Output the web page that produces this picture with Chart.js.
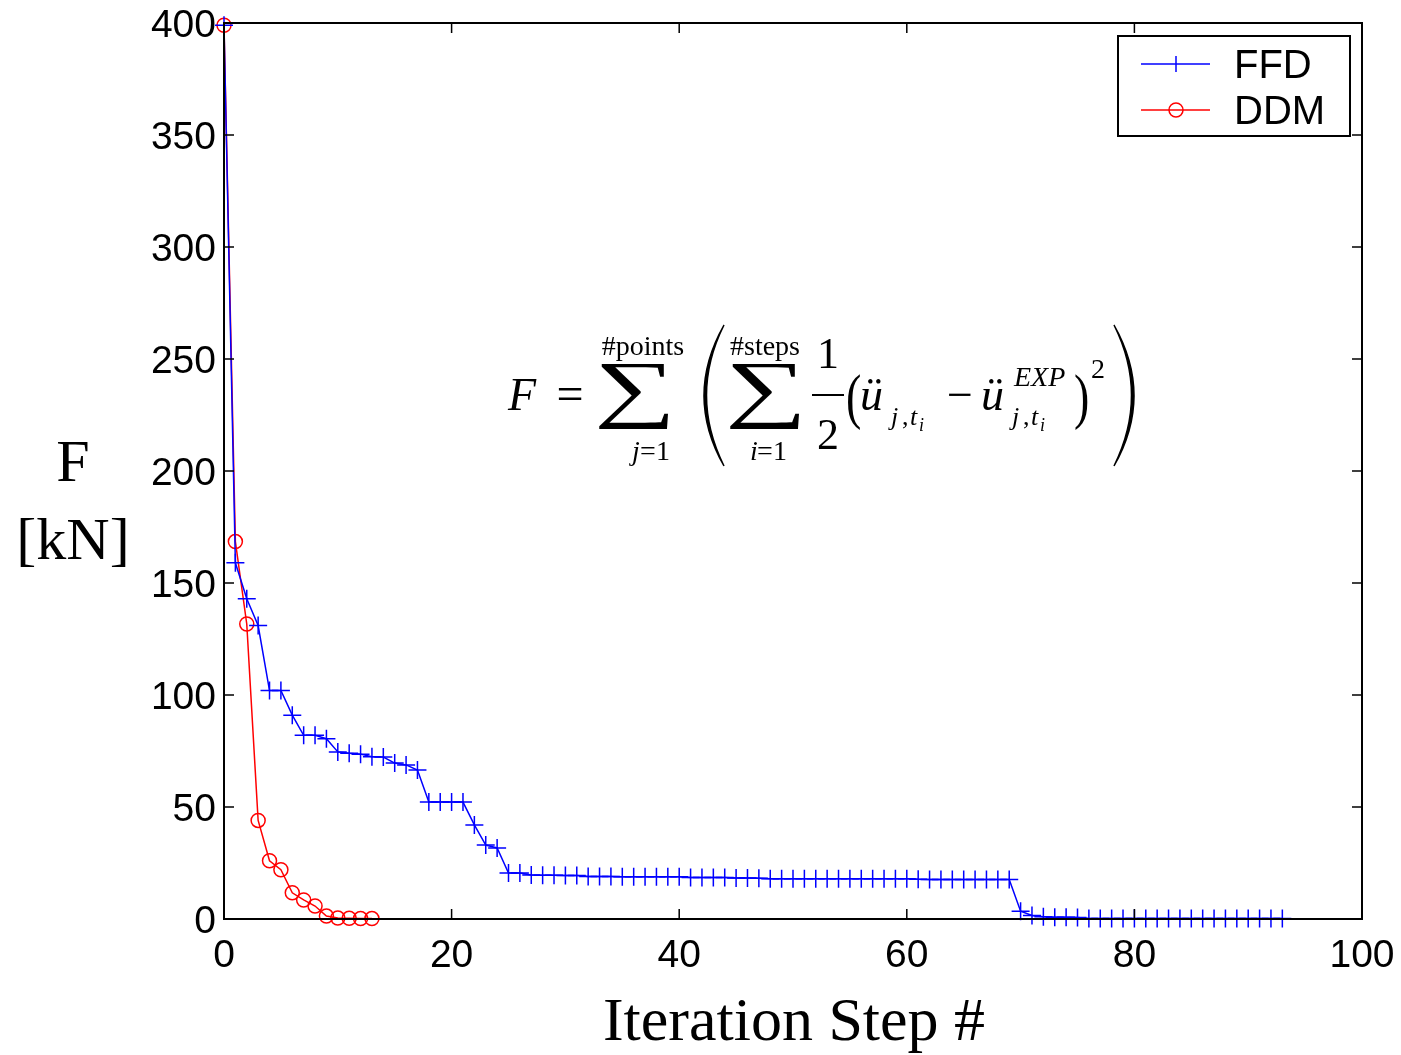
<!DOCTYPE html>
<html>
<head>
<meta charset="utf-8">
<script src="https://cdn.jsdelivr.net/npm/chart.js@4.4.1/dist/chart.umd.min.js"></script>
<style>
  html, body { margin: 0; padding: 0; background: #fff; }
  #wrap { width: 1401px; height: 1055px; }
</style>
</head>
<body>
<div id="wrap"><canvas id="chart" width="1401" height="1055"></canvas></div>
<script>
// Objective function F [kN] per iteration step
const ffdValues = [
  399, 159, 143, 131, 102, 102, 91, 82, 82, 80.5,
  74.6, 74, 73.6, 72.4, 72.3, 69.6, 68.8, 66.5, 52.2, 52.2,
  52.2, 52.2, 42, 33, 31.7, 20.5, 20.5, 19.6, 19.5, 19.5,
  19.4, 19.4, 19.0, 19.0, 19.0, 18.9, 18.9, 18.9, 18.9, 18.9,
  18.9, 18.5, 18.5, 18.5, 18.5, 18.3, 18.3, 18.2, 18.0, 18.0,
  18.0, 18.0, 18.0, 18.0, 18.0, 18.0, 18.0, 18.0, 18.0, 18.0,
  18.0, 17.7, 17.6, 17.6, 17.6, 17.6, 17.6, 17.6, 17.6, 17.6,
  3.5, 1.6, 1.0, 0.8, 0.8, 0.7, 0.2, 0.2, 0.2, 0.2,
  0.2, 0.2, 0.2, 0.2, 0.2, 0.2, 0.2, 0.2, 0.2, 0.2,
  0.2, 0.2, 0.2, 0.2
];
const ddmValues = [399, 168.5, 131.7, 44, 26, 22, 11.7, 8.5, 5.8, 1.3, 0.4, 0.3, 0.2, 0.2];
const seriesNames = ["FFD", "DDM"];
const xTicks = [0, 20, 40, 60, 80, 100];
const yTicks = [0, 50, 100, 150, 200, 250, 300, 350, 400];

const SANS = "'Liberation Sans', Arial, Helvetica, sans-serif";
const SERIF = "'Liberation Serif', 'Times New Roman', serif";

function toPoints(values) {
  return values.map((v, i) => ({ x: i, y: v }));
}

// Box, inward ticks, axis titles, legend and formula
const decorPlugin = {
  id: "decor",
  afterDraw(chart) {
    const ctx = chart.ctx;
    const a = chart.chartArea;
    const xs = chart.scales.x;
    const ys = chart.scales.y;
    ctx.save();

    // frame
    ctx.strokeStyle = "#000";
    ctx.lineWidth = 2;
    ctx.strokeRect(a.left, a.top, a.right - a.left, a.bottom - a.top);

    // inward ticks on all four sides
    const tl = 10;
    ctx.lineWidth = 1.5;
    ctx.beginPath();
    xTicks.forEach((t) => {
      const px = xs.getPixelForValue(t);
      ctx.moveTo(px, a.bottom); ctx.lineTo(px, a.bottom - tl);
      ctx.moveTo(px, a.top); ctx.lineTo(px, a.top + tl);
    });
    yTicks.forEach((t) => {
      const py = ys.getPixelForValue(t);
      ctx.moveTo(a.left, py); ctx.lineTo(a.left + tl, py);
      ctx.moveTo(a.right, py); ctx.lineTo(a.right - tl, py);
    });
    ctx.stroke();

    // axis titles
    ctx.fillStyle = "#000";
    ctx.textAlign = "center";
    ctx.textBaseline = "alphabetic";
    ctx.font = "60px " + SERIF;
    ctx.fillText("F", 73, 481);
    ctx.fillText("[kN]", 73, 559);
    ctx.font = "62px " + SERIF;
    ctx.fillText("Iteration Step #", (a.left + a.right) / 2 + 1, 1040);

    // legend
    const lx = 1118, ly = 36, lw = 232, lh = 100;
    ctx.fillStyle = "#fff";
    ctx.fillRect(lx, ly, lw, lh);
    ctx.strokeStyle = "#000";
    ctx.lineWidth = 2;
    ctx.strokeRect(lx, ly, lw, lh);
    const rows = [
      { y: 64, color: "#0000ff", marker: "cross" },
      { y: 110, color: "#ff0000", marker: "circle" },
    ];
    rows.forEach((r, i) => {
      ctx.strokeStyle = r.color;
      ctx.lineWidth = 1.5;
      ctx.beginPath();
      ctx.moveTo(1141, r.y); ctx.lineTo(1210, r.y);
      ctx.stroke();
      ctx.beginPath();
      if (r.marker === "cross") {
        ctx.moveTo(1176, r.y - 8); ctx.lineTo(1176, r.y + 8);
      } else {
        ctx.arc(1176, r.y, 7, 0, Math.PI * 2);
      }
      ctx.stroke();
      ctx.fillStyle = "#000";
      ctx.textAlign = "left";
      ctx.font = "40px " + SANS;
      ctx.fillText(seriesNames[i], 1234, r.y + 14);
    });

    // formula
    drawFormula(ctx);
    ctx.restore();
  },
};

function txt(ctx, s, x, y, size, style, align) {
  ctx.font = (style || "") + " " + size + "px " + SERIF;
  ctx.textAlign = align || "left";
  ctx.fillText(s, x, y);
}

function bigParen(ctx, x, top, bottom, dir) {
  // dir = 1 for "(", -1 for ")"
  const mid = (top + bottom) / 2;
  const bulge = 40 * dir;
  ctx.beginPath();
  ctx.moveTo(x, top);
  ctx.quadraticCurveTo(x - bulge, mid, x, bottom);
  ctx.quadraticCurveTo(x - bulge + 5 * dir, mid, x, top);
  ctx.closePath();
  ctx.fill();
  ctx.lineWidth = 1.5;
  ctx.stroke();
}

function sigma(ctx, x, base) {
  ctx.save();
  ctx.translate(x, base);
  ctx.scale(1.25, 0.815);
  txt(ctx, "\u2211", 0, 0, 92, "", "center");
  ctx.restore();
}

function drawFormula(ctx) {
  ctx.fillStyle = "#000";
  ctx.strokeStyle = "#000";
  ctx.textBaseline = "alphabetic";

  txt(ctx, "F", 508, 410, 46, "italic");
  txt(ctx, "=", 570, 410, 48, "", "center");

  // outer sum
  sigma(ctx, 635, 413);
  txt(ctx, "#points", 643, 355, 28, "", "center");
  txt(ctx, "j", 636, 460, 28, "italic", "center");
  txt(ctx, "=1", 655, 460, 28, "", "center");

  // big parentheses
  bigParen(ctx, 724, 325, 466, 1);
  bigParen(ctx, 1114, 325, 466, -1);

  // inner sum
  sigma(ctx, 766, 413);
  txt(ctx, "#steps", 765, 355, 28, "", "center");
  txt(ctx, "i", 754, 460, 28, "italic", "center");
  txt(ctx, "=1", 772, 460, 28, "", "center");

  // fraction 1/2
  txt(ctx, "1", 828, 368, 44, "", "center");
  ctx.lineWidth = 2;
  ctx.beginPath();
  ctx.moveTo(812, 395); ctx.lineTo(844, 395);
  ctx.stroke();
  txt(ctx, "2", 828, 449, 44, "", "center");

  // small parentheses
  ctx.save();
  ctx.translate(846, 417);
  ctx.scale(1, 1.35);
  txt(ctx, "(", 0, 0, 46, "");
  ctx.restore();
  ctx.save();
  ctx.translate(1074, 417);
  ctx.scale(1, 1.35);
  txt(ctx, ")", 0, 0, 46, "");
  ctx.restore();

  // first acceleration term
  txt(ctx, "\u00fc", 860, 410, 46, "italic");
  txt(ctx, "j", 891, 425, 26, "italic");
  txt(ctx, ",", 902, 425, 26, "");
  txt(ctx, "t", 910, 425, 26, "italic");
  txt(ctx, "i", 919, 431, 18, "italic");

  txt(ctx, "\u2212", 960, 410, 46, "", "center");

  // measured acceleration term
  txt(ctx, "\u00fc", 981, 410, 46, "italic");
  txt(ctx, "EXP", 1014, 386, 28, "italic");
  txt(ctx, "j", 1012, 425, 26, "italic");
  txt(ctx, ",", 1023, 425, 26, "");
  txt(ctx, "t", 1031, 425, 26, "italic");
  txt(ctx, "i", 1040, 431, 18, "italic");

  txt(ctx, "2", 1091, 378, 28, "");
}

function noOverhang(s) {
  s.paddingTop = 0;
  s.paddingBottom = 0;
  s.paddingLeft = 0;
  s.paddingRight = 0;
}

new Chart(document.getElementById("chart"), {
  type: "line",
  data: {
    datasets: [
      {
        label: seriesNames[0],
        data: toPoints(ffdValues),
        borderColor: "#0000ff",
        backgroundColor: "#0000ff",
        borderWidth: 1.5,
        pointStyle: "cross",
        pointRadius: 9,
        pointBorderWidth: 1.5,
        pointBorderColor: "#0000ff",
        tension: 0,
        fill: false,
        clip: false,
      },
      {
        label: seriesNames[1],
        data: toPoints(ddmValues),
        borderColor: "#ff0000",
        backgroundColor: "rgba(0,0,0,0)",
        borderWidth: 1.5,
        pointStyle: "circle",
        pointRadius: 7,
        pointBorderWidth: 1.5,
        pointBorderColor: "#ff0000",
        pointBackgroundColor: "rgba(0,0,0,0)",
        tension: 0,
        fill: false,
        clip: false,
      },
    ],
  },
  options: {
    responsive: false,
    animation: false,
    layout: { padding: { top: 23, right: 39, left: 0, bottom: 0 } },
    plugins: {
      legend: { display: false },
      tooltip: { enabled: false },
    },
    scales: {
      x: {
        type: "linear",
        min: 0,
        max: 100,
        afterFit: (s) => { s.height = 136; noOverhang(s); },
        afterBuildTicks: (s) => { s.ticks = xTicks.map((v) => ({ value: v })); },
        grid: { display: true, drawOnChartArea: false, drawTicks: false },
        border: { display: false },
        ticks: {
          padding: 14,
          color: "#000",
          font: { family: SANS, size: 39 },
          maxRotation: 0,
        },
      },
      y: {
        type: "linear",
        min: 0,
        max: 400,
        afterFit: (s) => { s.width = 224; noOverhang(s); },
        afterBuildTicks: (s) => { s.ticks = yTicks.map((v) => ({ value: v })); },
        grid: { display: true, drawOnChartArea: false, drawTicks: false },
        border: { display: false },
        ticks: {
          padding: 8,
          labelOffset: 3,
          color: "#000",
          font: { family: SANS, size: 39 },
        },
      },
    },
  },
  plugins: [decorPlugin],
});
</script>
</body>
</html>
